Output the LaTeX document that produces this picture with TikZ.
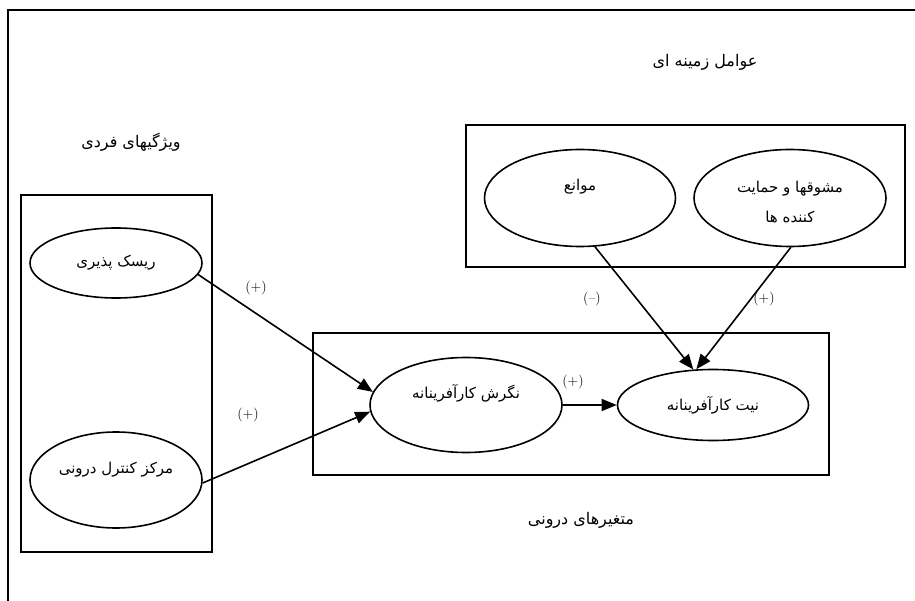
\documentclass[tikz,border=0pt]{standalone}
\usepackage{fontspec}
\newfontfamily\fa[Script=Arabic]{DejaVu Sans}
\TeXXeTstate=1
\usetikzlibrary{shapes, arrows.meta, positioning}

\begin{document}
\begin{tikzpicture}[x=1pt, y=-1pt, >={Triangle[length=15pt,width=12pt]},
    oval/.style={draw, ellipse, line width=1.6pt, inner sep=0pt},
    farsi/.style={font=\fa\fontsize{15}{30}\selectfont, align=center},
    title/.style={farsi, font=\fa\fontsize{16}{30}\selectfont},
    sign/.style={font=\fontsize{14}{16}\selectfont}]
    \useasboundingbox (0,0) rectangle (915,601);

    % Outer frame
    \draw[line width=2pt] (8,601) -- (8,10) -- (915,10);

    % Group boxes
    \draw[line width=1.9pt] (21,195) rectangle (212,552);
    \draw[line width=1.9pt] (466,125) rectangle (905,267);
    \draw[line width=1.9pt] (313,333) rectangle (829,475);

    % Group titles
    \node[title] (indT) at (131,142) {\beginR ویژگیهای فردی\endR};
    \node[title] (ctxT) at (705,62) {\beginR عوامل زمینه ای\endR};
    \node[title] (innT) at (581,520) {\beginR متغیرهای درونی\endR};

    % Ellipses
    \node[oval, minimum width=172, minimum height=70] (risk) at (116,263) {};
    \node[oval, minimum width=172, minimum height=96] (loc) at (116,480) {};
    \node[oval, minimum width=191, minimum height=97] (mav) at (580,198) {};
    \node[oval, minimum width=192, minimum height=97] (inc) at (790,198) {};
    \node[oval, minimum width=192, minimum height=95] (att) at (466,405) {};
    \node[oval, minimum width=191, minimum height=71] (int) at (713,405) {};

    % Ellipse texts
    \node[farsi] (riskT) at (risk.center) {\beginR ریسک پذیری\endR};
    \node[farsi] (locT) at ([yshift=10pt]loc.center) {\beginR مرکز کنترل درونی\endR};
    \node[farsi] (mavT) at ([yshift=11pt]mav.center) {\beginR موانع\endR};
    \node[farsi] (incT) at ([yshift=-4pt]inc.center) {\beginR مشوقها و حمایت\endR\\\beginR کننده ها\endR};
    \node[farsi] (attT) at ([yshift=12pt]att.center) {\beginR نگرش کارآفرینانه\endR};
    \node[farsi] (intT) at (int.center) {\beginR نیت کارآفرینانه\endR};

    % Signs
    \node[sign] (s1) at (256,288) {(+)};
    \node[sign] (s2) at (248,415) {(+)};
    \node[sign] (s3) at (573,382) {(+)};
    \node[sign] (s4) at (592,299) {(--)};
    \node[sign] (s5) at (764,299) {(+)};

    % Arrows
    \foreach \a/\b in {risk.-8/att.172, loc.-2/att.184, att.east/int.west, mav.-73/int.119, inc.-89/int.115}
        \draw[->, line width=1.6pt] (\a) -- (\b);
\end{tikzpicture}
\end{document}
